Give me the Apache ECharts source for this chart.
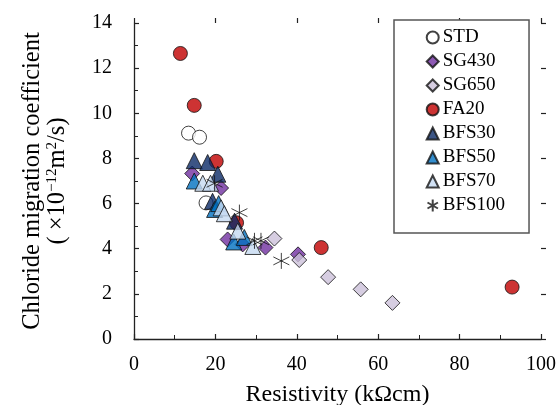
<!DOCTYPE html>
<html><head><meta charset="utf-8">
<script src="https://cdn.jsdelivr.net/npm/echarts@6/dist/echarts.min.js"></script>
<style>html,body{margin:0;padding:0;background:#fff}#c{width:557px;height:405px}</style>
</head><body><div id="c"></div>
<script>
const xTicks = [0, 20, 40, 60, 80, 100];
const yTicks = [0, 2, 4, 6, 8, 10, 12, 14];
const seriesNames = ['STD','SG430','SG650','FA20','BFS30','BFS50','BFS70','BFS100'];
const STD = [[13.4,9.12],[16.1,8.94],[17.7,6.03]];
const SG430 = [[14.3,7.33],[21.4,6.69],[23.0,4.41],[26.7,4.19],[32.3,4.05],[40.3,3.75]];
const SG650 = [[34.5,4.45],[40.6,3.5],[47.7,2.74],[55.7,2.2],[63.5,1.6]];
const FA20 = [[11.4,12.65],[14.8,10.35],[20.2,7.87],[25.2,5.15],[46.0,4.05],[92.9,2.3]];
const BFS30 = [[14.8,7.9],[18.1,7.82],[20.6,7.3],[19.3,6.1],[24.7,5.22]];
const BFS50 = [[14.8,7.0],[19.8,5.74],[20.8,6.0],[24.5,4.3],[27.1,4.5]];
const BFS70 = [[16.9,6.9],[18.8,6.9],[21.4,5.81],[22.2,5.55],[25.5,4.78],[29.2,4.1]];
const BFS100 = [[19.8,6.9],[25.9,5.6],[29.6,4.35],[31.2,4.35],[36.2,3.46]];

const dataSets = [STD, SG430, SG650, FA20, BFS30, BFS50, BFS70, BFS100];
const star = 'path://M0,-1L0,1M-0.87,-0.5L0.87,0.5M-0.87,0.5L0.87,-0.5';
const styles = [
  {symbol:'circle', size:14, color:'#ffffff'},
  {symbol:'diamond', size:15, color:'#7030a0'},
  {symbol:'diamond', size:15, color:'#ccc0da'},
  {symbol:'circle', size:14, color:'#c00000'},
  {symbol:'triangle', size:16, color:'#0b2a66'},
  {symbol:'triangle', size:16, color:'#0070c0'},
  {symbol:'triangle', size:16, color:'#c5d9f1'},
  {symbol:star, size:16, color:'none'}
];
const font = 'Liberation Serif';
const chart = echarts.init(document.getElementById('c'));
const axX = (i) => ({
  type:'value', min:0, max:100, interval:20, gridIndex:0,
  axisLine:{show: i===0, onZero:false, lineStyle:{color:'#222', width:1.3}},
  axisTick:{show:true, inside: i===0, length:5, lineStyle:{color:'#222', width:1.2}},
  minorTick:{show: i===0, splitNumber:2, length:4, lineStyle:{color:'#222', width:1}},
  axisLabel:{show: i===0, color:'#000', fontFamily:font, fontSize:20, margin:16,
    formatter: v => xTicks.includes(v) ? String(v) : ''},
  splitLine:{show:false},
  name: i===0 ? 'Resistivity (kΩcm)' : '', nameLocation:'middle', nameGap:44,
  nameTextStyle:{color:'#000', fontFamily:font, fontSize:24}
});
const yName = '{a|Chloride migration coefficient}\n{a|( \u00d710}{s|\u221212}{a|m}{s|2}{a|/s)}';
const axY = (i) => ({
  type:'value', min:0, max:14, interval:2, gridIndex:0,
  axisLine:{show: i===0, onZero:false, lineStyle:{color:'#222', width:1.3}},
  axisTick:{show:true, inside: i===0, length:5, lineStyle:{color:'#222', width:1.2}},
  minorTick:{show: i===0, splitNumber:2, length:4, lineStyle:{color:'#222', width:1}},
  axisLabel:{show: i===0, color:'#000', fontFamily:font, fontSize:20, margin:22,
    formatter: v => yTicks.includes(v) ? String(v) : ''},
  splitLine:{show:false},
  name: i===0 ? yName : '',
  nameLocation:'middle', nameGap:64, nameRotate:90,
  nameTextStyle:{color:'#000', fontFamily:font, fontSize:24, align:'center',
    rich:{
      a:{fontFamily:font, fontSize:24.5, lineHeight:25, color:'#000'},
      s:{fontFamily:font, fontSize:15, lineHeight:22, color:'#000', verticalAlign:'top'}
    }}
});
chart.setOption({
  animation:false,
  backgroundColor:'#fff',
  grid:{left:134, right:16, top:23, bottom:66, outerBoundsMode:'none', containLabel:false},
  xAxis:[axX(0), axX(1)],
  yAxis:[axY(0), axY(1)],
  legend:{
    orient:'vertical', left:394, top:20,
    padding:[8, 24, 18, 31],
    itemGap:5, itemWidth:12, itemHeight:12,
    borderColor:'#555', borderWidth:1.5, backgroundColor:'#fff',
    textStyle:{color:'#000', fontFamily:font, fontSize:19, lineHeight:18, padding:[0,0,0,-1]},
    data: seriesNames
  },
  series: seriesNames.map((n, i) => ({
    name:n, type:'scatter', xAxisIndex:0, yAxisIndex:0,
    data: dataSets[i],
    symbol: styles[i].symbol, symbolSize: styles[i].size,
    itemStyle:{color: styles[i].color, borderColor:'#111', borderWidth: 1},
    z: 2 + i
  }))
});
</script></body></html>
